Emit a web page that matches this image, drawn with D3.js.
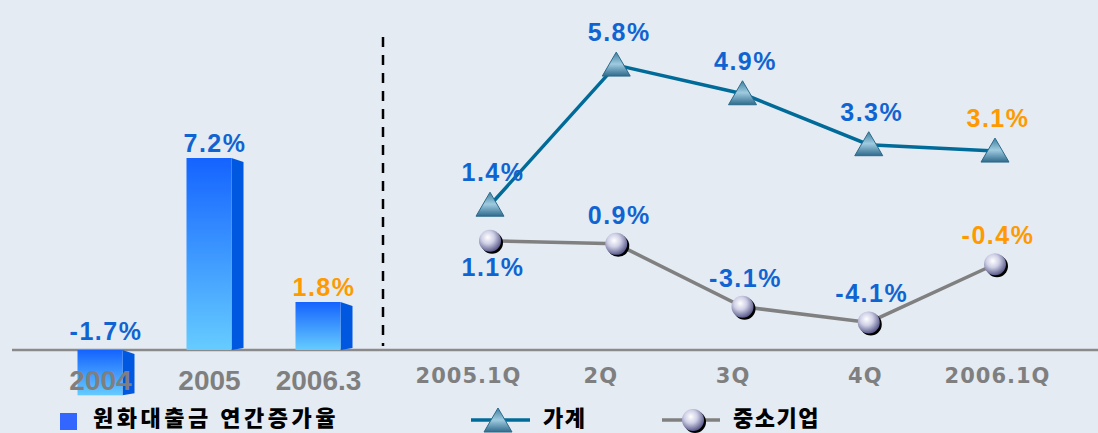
<!DOCTYPE html>
<html><head><meta charset="utf-8">
<script src="https://cdn.jsdelivr.net/npm/d3@7"></script>
<style>html,body{margin:0;padding:0;background:#e4ebf3;overflow:hidden;} svg{display:block;}</style>
</head><body><svg id="c" width="1098" height="433"></svg>
<script>
// ---- data ----
const barCategories = ["2004", "2005", "2006.3"];
const barValues = [-1.7, 7.2, 1.8];
const barLabels = ["-1.7%", "7.2%", "1.8%"];
const quarters = ["2005.1Q", "2Q", "3Q", "4Q", "2006.1Q"];
const householdValues = [1.4, 5.8, 4.9, 3.3, 3.1];
const householdLabels = ["1.4%", "5.8%", "4.9%", "3.3%", "3.1%"];
const smeValues = [1.1, 0.9, -3.1, -4.1, -0.4];
const smeLabels = ["1.1%", "0.9%", "-3.1%", "-4.1%", "-0.4%"];
const legendBar = "원화대출금 연간증가율";
const legendHousehold = "가계";
const legendSme = "중소기업";

// ---- setup ----
const svg = d3.select("#c");
const BLUE = "#1064d2", ORANGE = "#ff9900", GRAY = "#7f7f7f";
const valFont = "'Liberation Sans', Arial, sans-serif";
const krFont = "'Noto Sans CJK KR', sans-serif";

const defs = svg.append("defs");
const gf = defs.append("linearGradient").attr("id", "barFront").attr("x1", 0).attr("y1", 0).attr("x2", 0).attr("y2", 1);
gf.append("stop").attr("offset", "0%").attr("stop-color", "#1463ff");
gf.append("stop").attr("offset", "100%").attr("stop-color", "#66ccff");
const gt = defs.append("linearGradient").attr("id", "tri").attr("x1", 0).attr("y1", 0).attr("x2", 0).attr("y2", 1);
gt.append("stop").attr("offset", "0%").attr("stop-color", "#3f7f9f");
gt.append("stop").attr("offset", "50%").attr("stop-color", "#9fcbe0");
gt.append("stop").attr("offset", "100%").attr("stop-color", "#2f6a8c");
const gs = defs.append("radialGradient").attr("id", "sph").attr("cx", "40%").attr("cy", "35%").attr("r", "65%");
gs.append("stop").attr("offset", "0%").attr("stop-color", "#ffffff");
gs.append("stop").attr("offset", "45%").attr("stop-color", "#cfd0e6");
gs.append("stop").attr("offset", "100%").attr("stop-color", "#5c5c8c");

svg.append("rect").attr("width", 1098).attr("height", 433).attr("fill", "#e4ebf3");

// ---- scales ----
const xBar = d3.scalePoint().domain(barCategories).range([100, 318]);
const yBar = d3.scaleLinear().domain([0, 7.2]).range([350, 158]);
const xQ = d3.scalePoint().domain(quarters).range([490, 995]);
const xQLabel = d3.scalePoint().domain(quarters).range([468, 997]);
const yH = d3.scaleLinear().domain([0, 5.8]).range([249.8, 65.1]);
const yS = d3.scaleLinear().domain([0, -4.1]).range([258, 322.4]);

// baseline
svg.append("line").attr("x1", 12).attr("x2", 1098).attr("y1", yBar(0)).attr("y2", yBar(0))
  .attr("stroke", "#8a8a8a").attr("stroke-width", 2.5);
// divider
svg.append("line").attr("x1", 383).attr("x2", 383).attr("y1", 37).attr("y2", 346)
  .attr("stroke", "#000").attr("stroke-width", 2.5).attr("stroke-dasharray", "10,8");

// ---- bars ----
const bars = barCategories.map((c, i) => ({c, v: barValues[i], label: barLabels[i], last: i === barCategories.length - 1}));
const FW = 45, SW = 12;
const bg = svg.append("g");
bars.forEach(d => {
  const x0 = xBar(d.c) - FW / 2;
  const yt = Math.min(yBar(d.v), yBar(0));
  const yb = Math.max(yBar(d.v), yBar(0));
  bg.append("path")
    .attr("d", `M${x0 + FW},${yt} L${x0 + FW + SW},${yt + 4} L${x0 + FW + SW},${yb - 2} L${x0 + FW},${yb} Z`)
    .attr("fill", "#0058e0");
  bg.append("rect").attr("x", x0).attr("y", yt).attr("width", FW).attr("height", yb - yt)
    .attr("fill", "url(#barFront)");
  bg.append("text").attr("x", xBar(d.c) + 6).attr("y", d.v >= 0 ? yBar(d.v) - 6 : yBar(0) - 10)
    .attr("text-anchor", "middle").attr("font-family", valFont).attr("font-weight", "bold")
    .attr("font-size", 25).attr("letter-spacing", 1.5).attr("fill", d.last ? ORANGE : BLUE).text(d.label);
});

// bar axis labels
const axL = svg.append("g").attr("transform", "translate(0,390)")
  .call(d3.axisBottom(xBar).tickSize(0).tickPadding(0));
axL.select(".domain").remove();
axL.selectAll("text").attr("y", 0).attr("dy", null)
  .attr("font-family", valFont).attr("font-weight", "bold").attr("font-size", 28).attr("fill", GRAY);

// quarter axis labels
const axR = svg.append("g").attr("transform", "translate(0,383)")
  .call(d3.axisBottom(xQLabel).tickSize(0).tickPadding(0));
axR.select(".domain").remove();
axR.selectAll("text").attr("y", 0).attr("dy", null)
  .attr("font-family", "'DejaVu Sans', sans-serif").attr("font-weight", "bold").attr("font-size", 21)
  .attr("letter-spacing", 1).attr("fill", GRAY);

// ---- lines ----
const hh = quarters.map((q, i) => ({q, v: householdValues[i], label: householdLabels[i], i}));
const sm = quarters.map((q, i) => ({q, v: smeValues[i], label: smeLabels[i], i}));

svg.append("path").datum(sm)
  .attr("d", d3.line().x(d => xQ(d.q)).y(d => yS(d.v)))
  .attr("fill", "none").attr("stroke", "#808080").attr("stroke-width", 3.5);
svg.append("path").datum(hh)
  .attr("d", d3.line().x(d => xQ(d.q)).y(d => yH(d.v)))
  .attr("fill", "none").attr("stroke", "#006b99").attr("stroke-width", 3.5);

function tri(g, x, y) {
  g.append("path").attr("d", `M${x},${y - 13} L${x - 14},${y + 11} L${x + 14},${y + 11} Z`)
    .attr("fill", "url(#tri)").attr("stroke", "#2c6a8a").attr("stroke-width", 1);
}
function sphere(g, x, y) {
  g.append("circle").attr("cx", x + 2).attr("cy", y + 2).attr("r", 11).attr("fill", "#000");
  g.append("circle").attr("cx", x).attr("cy", y).attr("r", 11).attr("fill", "url(#sph)");
}

const mg = svg.append("g");
hh.forEach(d => tri(mg, xQ(d.q), yH(d.v)));
sm.forEach(d => sphere(mg, xQ(d.q), yS(d.v)));

const lastIdx = quarters.length - 1;
hh.forEach(d => {
  svg.append("text").attr("x", xQ(d.q) + 3).attr("y", yH(d.v) - 24)
    .attr("text-anchor", "middle").attr("font-family", valFont).attr("font-weight", "bold")
    .attr("font-size", 25).attr("letter-spacing", 1.5).attr("fill", d.i === lastIdx ? ORANGE : BLUE).text(d.label);
});
sm.forEach(d => {
  svg.append("text").attr("x", xQ(d.q) + 3).attr("y", d.i === 0 ? yS(d.v) + 35 : yS(d.v) - 20)
    .attr("text-anchor", "middle").attr("font-family", valFont).attr("font-weight", "bold")
    .attr("font-size", 25).attr("letter-spacing", 1.5).attr("fill", d.i === lastIdx ? ORANGE : BLUE).text(d.label);
});

// ---- legend ----
const lg = svg.append("g");
lg.append("rect").attr("x", 60).attr("y", 413).attr("width", 17).attr("height", 17).attr("fill", "#3366ff");
lg.append("text").attr("x", 93).attr("y", 426).attr("font-family", krFont).attr("font-weight", 900)
  .attr("font-size", 22).attr("letter-spacing", 3.5).attr("fill", "#000").text(legendBar);
lg.append("line").attr("x1", 471).attr("x2", 530).attr("y1", 420).attr("y2", 420)
  .attr("stroke", "#006b99").attr("stroke-width", 3.5);
tri(lg, 498, 421);
lg.append("text").attr("x", 543).attr("y", 426).attr("font-family", krFont).attr("font-weight", 900)
  .attr("font-size", 22).attr("letter-spacing", 1.5).attr("fill", "#000").text(legendHousehold);
lg.append("line").attr("x1", 662).attr("x2", 720).attr("y1", 420).attr("y2", 420)
  .attr("stroke", "#808080").attr("stroke-width", 3.5);
sphere(lg, 693, 420);
lg.append("text").attr("x", 733).attr("y", 426).attr("font-family", krFont).attr("font-weight", 900)
  .attr("font-size", 22).attr("letter-spacing", 1.5).attr("fill", "#000").text(legendSme);
</script>
</body></html>
